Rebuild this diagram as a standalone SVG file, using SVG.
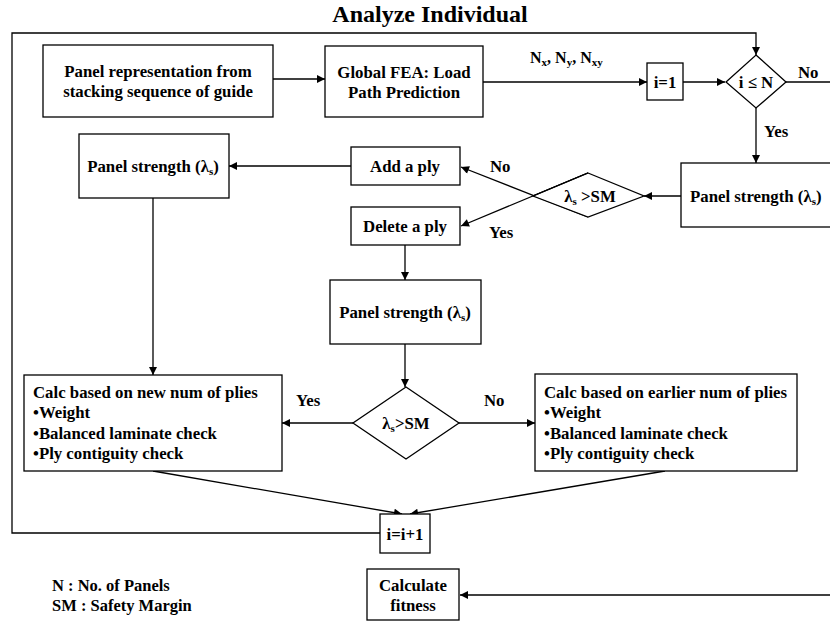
<svg xmlns="http://www.w3.org/2000/svg" width="830" height="624" viewBox="0 0 830 624">
<defs>
<style>
text{font-family:"Liberation Serif","Times New Roman",serif;font-weight:bold;fill:#000;font-size:16.8px}
.c{text-anchor:middle}
.t{font-size:24px}
.sub{font-size:11px}
.nl{font-size:16px}
.n{fill:#fff;stroke:#000;stroke-width:1.3}
.e{fill:none;stroke:#000;stroke-width:1.3}
.ea{fill:none;stroke:#000;stroke-width:1.3;marker-end:url(#ah)}
.lg{font-size:16.5px}
</style>
<marker id="ah" viewBox="0 0 10 10" refX="10" refY="5" markerWidth="10" markerHeight="8" markerUnits="userSpaceOnUse" orient="auto"><path d="M0,0 L10,5 L0,10 z" fill="#000"/></marker>
</defs>
<rect width="830" height="624" fill="#fff"/>
<text class="t c" x="430" y="22">Analyze Individual</text>

<g id="connectors">
<polyline class="ea" points="380,533 12,533 12,33 756,33 756,55"/>
<line class="ea" x1="273" y1="79" x2="325" y2="79"/>
<line class="ea" x1="483" y1="82" x2="647" y2="82"/>
<line class="ea" x1="683" y1="82" x2="725" y2="82"/>
<line class="e" x1="786" y1="82" x2="830" y2="82"/>
<line class="ea" x1="756" y1="108" x2="756" y2="163"/>
<line class="ea" x1="681" y1="196" x2="644" y2="196"/>
<line class="ea" x1="588" y1="217" x2="461" y2="167"/>
<line class="ea" x1="588" y1="173" x2="461" y2="226"/>
<line class="ea" x1="351" y1="166" x2="229" y2="166"/>
<line class="ea" x1="153" y1="198" x2="153" y2="375"/>
<line class="ea" x1="405" y1="245" x2="405" y2="280"/>
<line class="ea" x1="405" y1="344" x2="405" y2="387"/>
<line class="ea" x1="353" y1="423" x2="282" y2="423"/>
<line class="ea" x1="459" y1="423" x2="535" y2="423"/>
<line class="ea" x1="153" y1="471" x2="402" y2="514"/>
<line class="ea" x1="665" y1="471" x2="410" y2="514"/>
<line class="ea" x1="830" y1="595" x2="460" y2="595"/>
</g>

<g id="panel-rep">
<rect class="n" x="43" y="45" width="230" height="72"/>
<text class="c" x="158" y="77">Panel representation from</text>
<text class="c" x="158" y="97">stacking sequence of guide</text>
</g>
<g id="global-fea">
<rect class="n" x="325" y="46" width="158" height="71"/>
<text class="c" x="404" y="78">Global FEA: Load</text>
<text class="c" x="404" y="98">Path Prediction</text>
</g>
<g id="nlabel">
<text class="nl" x="530" y="63">N<tspan class="sub" dy="3">x</tspan><tspan dy="-3">, N</tspan><tspan class="sub" dy="3">y</tspan><tspan dy="-3">, N</tspan><tspan class="sub" dy="3">xy</tspan></text>
</g>
<g id="i-init">
<rect class="n" x="647" y="63" width="36" height="37"/>
<text class="c" x="665" y="88">i=1</text>
</g>
<g id="dec-i">
<polygon class="n" points="756,55 786,82 756,108 726,82"/>
<text class="c" x="756" y="88">i ≤ N</text>
<text x="798" y="78">No</text>
<text x="764" y="137">Yes</text>
</g>
<g id="ps-right">
<rect class="n" x="681" y="163" width="160" height="64"/>
<text x="690" y="202">Panel strength (λ<tspan class="sub" dy="3">s</tspan><tspan dy="-3">)</tspan></text>
</g>
<g id="dec-sm1">
<polygon class="n" points="588,173 644,196 588,217 533,196"/>
<line class="e" x1="533" y1="196" x2="588" y2="173"/>
<text class="c" x="590" y="202">λ<tspan class="sub" dy="3">s</tspan><tspan dy="-3"> &gt;SM</tspan></text>
<text x="490" y="172">No</text>
<text x="489" y="238">Yes</text>
</g>
<g id="add-ply">
<rect class="n" x="351" y="147" width="109" height="38"/>
<text class="c" x="405" y="172">Add a ply</text>
</g>
<g id="delete-ply">
<rect class="n" x="351" y="207" width="109" height="38"/>
<text class="c" x="405" y="232">Delete a ply</text>
</g>
<g id="ps-left">
<rect class="n" x="79" y="134" width="150" height="64"/>
<text class="c" x="153" y="172">Panel strength (λ<tspan class="sub" dy="3">s</tspan><tspan dy="-3">)</tspan></text>
</g>
<g id="ps-mid">
<rect class="n" x="330" y="280" width="151" height="64"/>
<text class="c" x="405" y="318">Panel strength (λ<tspan class="sub" dy="3">s</tspan><tspan dy="-3">)</tspan></text>
</g>
<g id="dec-sm2">
<polygon class="n" points="406,387 459,423 406,459 353,423"/>
<text class="c" x="406" y="429">λ<tspan class="sub" dy="3">s</tspan><tspan dy="-3">&gt;SM</tspan></text>
<text x="296" y="406">Yes</text>
<text x="484" y="406">No</text>
</g>
<g id="calc-new">
<rect class="n" x="24" y="375" width="258" height="96"/>
<text x="33" y="398">Calc based on new num of plies</text>
<text x="33" y="418">•Weight</text>
<text x="33" y="439">•Balanced laminate check</text>
<text x="33" y="459">•Ply contiguity check</text>
</g>
<g id="calc-old">
<rect class="n" x="535" y="374" width="262" height="97"/>
<text x="544" y="398">Calc based on earlier num of plies</text>
<text x="544" y="418">•Weight</text>
<text x="544" y="439">•Balanced laminate check</text>
<text x="544" y="459">•Ply contiguity check</text>
</g>
<g id="i-inc">
<rect class="n" x="380" y="514" width="50" height="39"/>
<text class="c" x="405" y="540">i=i+1</text>
</g>
<g id="fitness">
<rect class="n" x="367" y="569" width="92" height="51"/>
<text class="c" x="413" y="591">Calculate</text>
<text class="c" x="413" y="611">fitness</text>
</g>
<g id="legend">
<text class="lg" x="52" y="591">N : No. of Panels</text>
<text class="lg" x="52" y="611">SM : Safety Margin</text>
</g>
</svg>
